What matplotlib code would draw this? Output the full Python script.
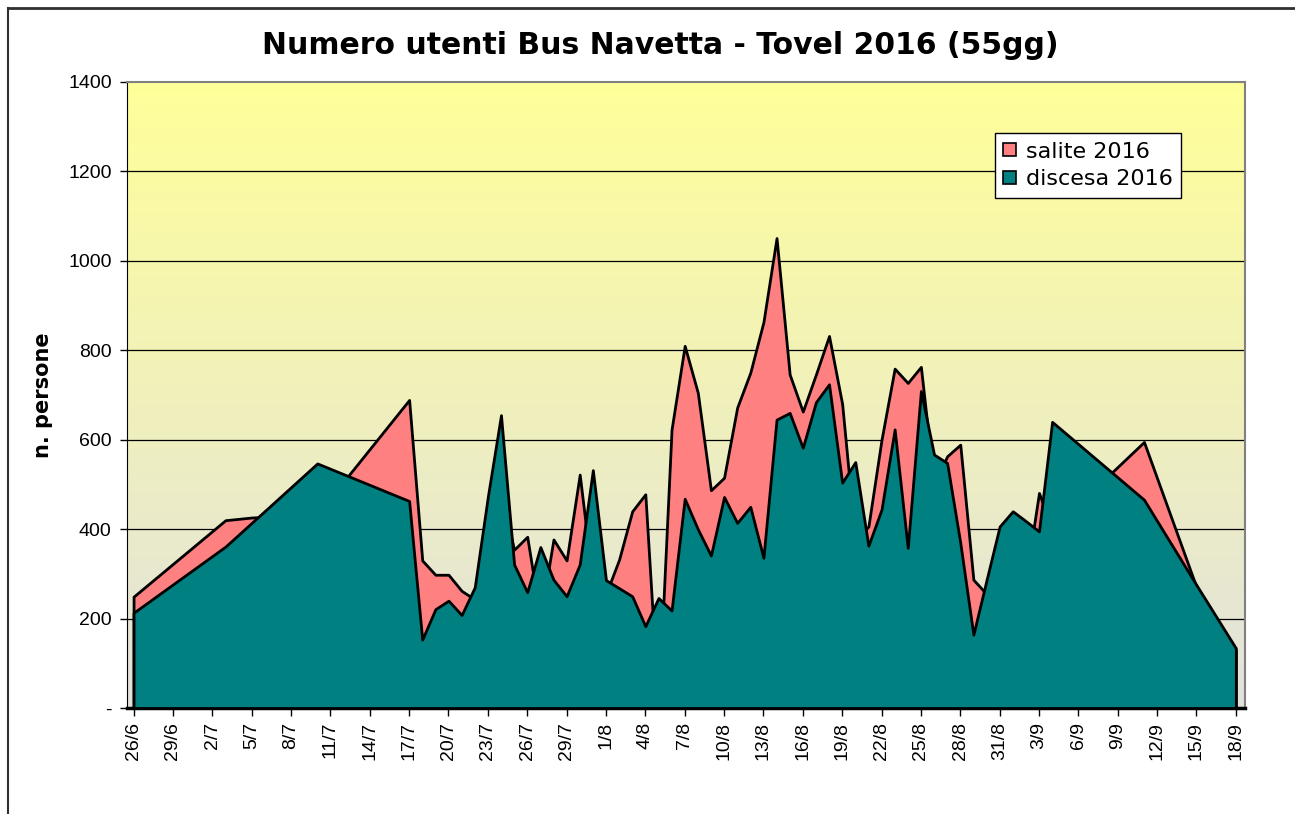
# -*- coding: utf-8 -*-
# Numero utenti Bus Navetta - Tovel 2016

import numpy as np
import pandas as pd
import matplotlib
matplotlib.use('Agg')
import matplotlib.pyplot as plt
from matplotlib.patches import Patch
from matplotlib.lines import Line2D

# giorni con dati
date = ['2016-06-26', '2016-07-03', '2016-07-05', '2016-07-10', '2016-07-17',
        '2016-07-18', '2016-07-19', '2016-07-20', '2016-07-21', '2016-07-22',
        '2016-07-23', '2016-07-24', '2016-07-25', '2016-07-26', '2016-07-27',
        '2016-07-28', '2016-07-29', '2016-07-30', '2016-07-31', '2016-08-01',
        '2016-08-02', '2016-08-03', '2016-08-04', '2016-08-05', '2016-08-06',
        '2016-08-07', '2016-08-08', '2016-08-09', '2016-08-10', '2016-08-11',
        '2016-08-12', '2016-08-13', '2016-08-14', '2016-08-15', '2016-08-16',
        '2016-08-17', '2016-08-18', '2016-08-19', '2016-08-20', '2016-08-21',
        '2016-08-22', '2016-08-23', '2016-08-24', '2016-08-25', '2016-08-26',
        '2016-08-27', '2016-08-28', '2016-08-29', '2016-08-30', '2016-08-31',
        '2016-09-01', '2016-09-02', '2016-09-03', '2016-09-04', '2016-09-11',
        '2016-09-15', '2016-09-18']

salite = [249, 420, 426, 433, 689,
          330, 298, 298, 262, 243,
          400, 480, 354, 383, 200,
          377, 330, 522, 280, 255,
          332, 440, 478, 0, 623,
          810, 705, 487, 515, 672,
          750, 863, 1051, 746, 663,
          746, 832, 680, 374, 406,
          600, 759, 727, 763, 500,
          563, 589, 287, 255, 300,
          300, 288, 481, 400, 595,
          270, 130]

discesa = [213, 361, 414, 547, 463,
           153, 221, 240, 208, 270,
           473, 655, 321, 259, 360,
           287, 250, 321, 532, 286,
           268, 250, 183, 246, 218,
           468, 400, 341, 472, 414,
           450, 336, 645, 660, 582,
           684, 724, 504, 550, 363,
           444, 623, 358, 709, 567,
           548, 370, 164, 286, 406,
           440, 418, 395, 640, 466,
           275, 134]

x = pd.to_datetime(date)
tick_date = pd.date_range('2016-06-26', '2016-09-18', freq='3D')
tick_label = [f'{d.day}/{d.month}' for d in tick_date]
y_ticks = [0, 200, 400, 600, 800, 1000, 1200, 1400]
y_label = ['-', '200', '400', '600', '800', '1000', '1200', '1400']

rosa = '#FF8080'
verde = '#008080'

fig = plt.figure(figsize=(12.95, 8.14), dpi=100)
fig.patch.set_facecolor('white')
ax = fig.add_axes([127 / 1295, 1 - 708 / 814, 1118 / 1295, 626 / 814])

# sfondo sfumato giallo -> grigio
top = np.array([255, 255, 153]) / 255
bot = np.array([226, 226, 222]) / 255
t = np.linspace(0, 1, 256)[:, None]
grad = (top * (1 - t) + bot * t)[:, None, :]
ax.imshow(grad, extent=[0, 1, 0, 1], transform=ax.transAxes, aspect='auto', zorder=0)

for v in y_ticks[1:-1]:
    ax.axhline(v, color='black', lw=0.9, zorder=1)

ax.fill_between(x, salite, 0, facecolor=rosa, edgecolor='black', lw=2, zorder=2)
ax.fill_between(x, discesa, 0, facecolor=verde, edgecolor='black', lw=2, zorder=3)

x0 = pd.Timestamp('2016-06-26')
ax.set_xlim(x0 - pd.Timedelta(hours=12), x0 + pd.Timedelta(days=84.7))
ax.set_ylim(0, 1400)

ax.set_xticks(tick_date)
ax.set_xticklabels(tick_label, rotation=90, fontsize=14, family='Liberation Sans')
ax.set_yticks(y_ticks)
ax.set_yticklabels(y_label, fontsize=14, family='Liberation Sans')
ax.tick_params(axis='x', direction='out', length=6, width=1, pad=4)
ax.tick_params(axis='y', direction='out', length=5, width=1, pad=6)

ax.spines['left'].set_color('black')
ax.spines['bottom'].set_color('black')
ax.spines['bottom'].set_linewidth(2.5)
ax.spines['top'].set_color('#808080')
ax.spines['right'].set_color('#808080')
ax.spines['top'].set_linewidth(1.5)
ax.spines['right'].set_linewidth(1.5)

ax.set_ylabel('n. persone', fontsize=15, fontweight='bold', family='DejaVu Sans', labelpad=11)

fig.text(660 / 1295, 1 - 45 / 814, 'Numero utenti Bus Navetta - Tovel 2016 (55gg)',
         ha='center', va='center', fontsize=21.5, fontweight='bold', family='DejaVu Sans')

# legenda
handles = [Patch(facecolor=rosa, edgecolor='black', lw=1.2, label='salite 2016'),
           Patch(facecolor=verde, edgecolor='black', lw=1.2, label='discesa 2016')]
leg = ax.legend(handles=handles, loc='upper left', bbox_to_anchor=(0.776, 0.919),
                fancybox=False, framealpha=1, edgecolor='black',
                handlelength=0.55, handleheight=0.55, handletextpad=0.45,
                borderpad=0.4, labelspacing=0.35, borderaxespad=0,
                prop={'family': 'DejaVu Sans', 'size': 16})
leg.get_frame().set_linewidth(1)
leg.set_zorder(5)

# bordo del grafico
fig.add_artist(Line2D([8 / 1295, 1], [1 - 8 / 814, 1 - 8 / 814], color='#303030', lw=2))
fig.add_artist(Line2D([8 / 1295, 8 / 1295], [0, 1 - 8 / 814], color='#303030', lw=1.5))

fig.savefig('out.png', dpi=100)
